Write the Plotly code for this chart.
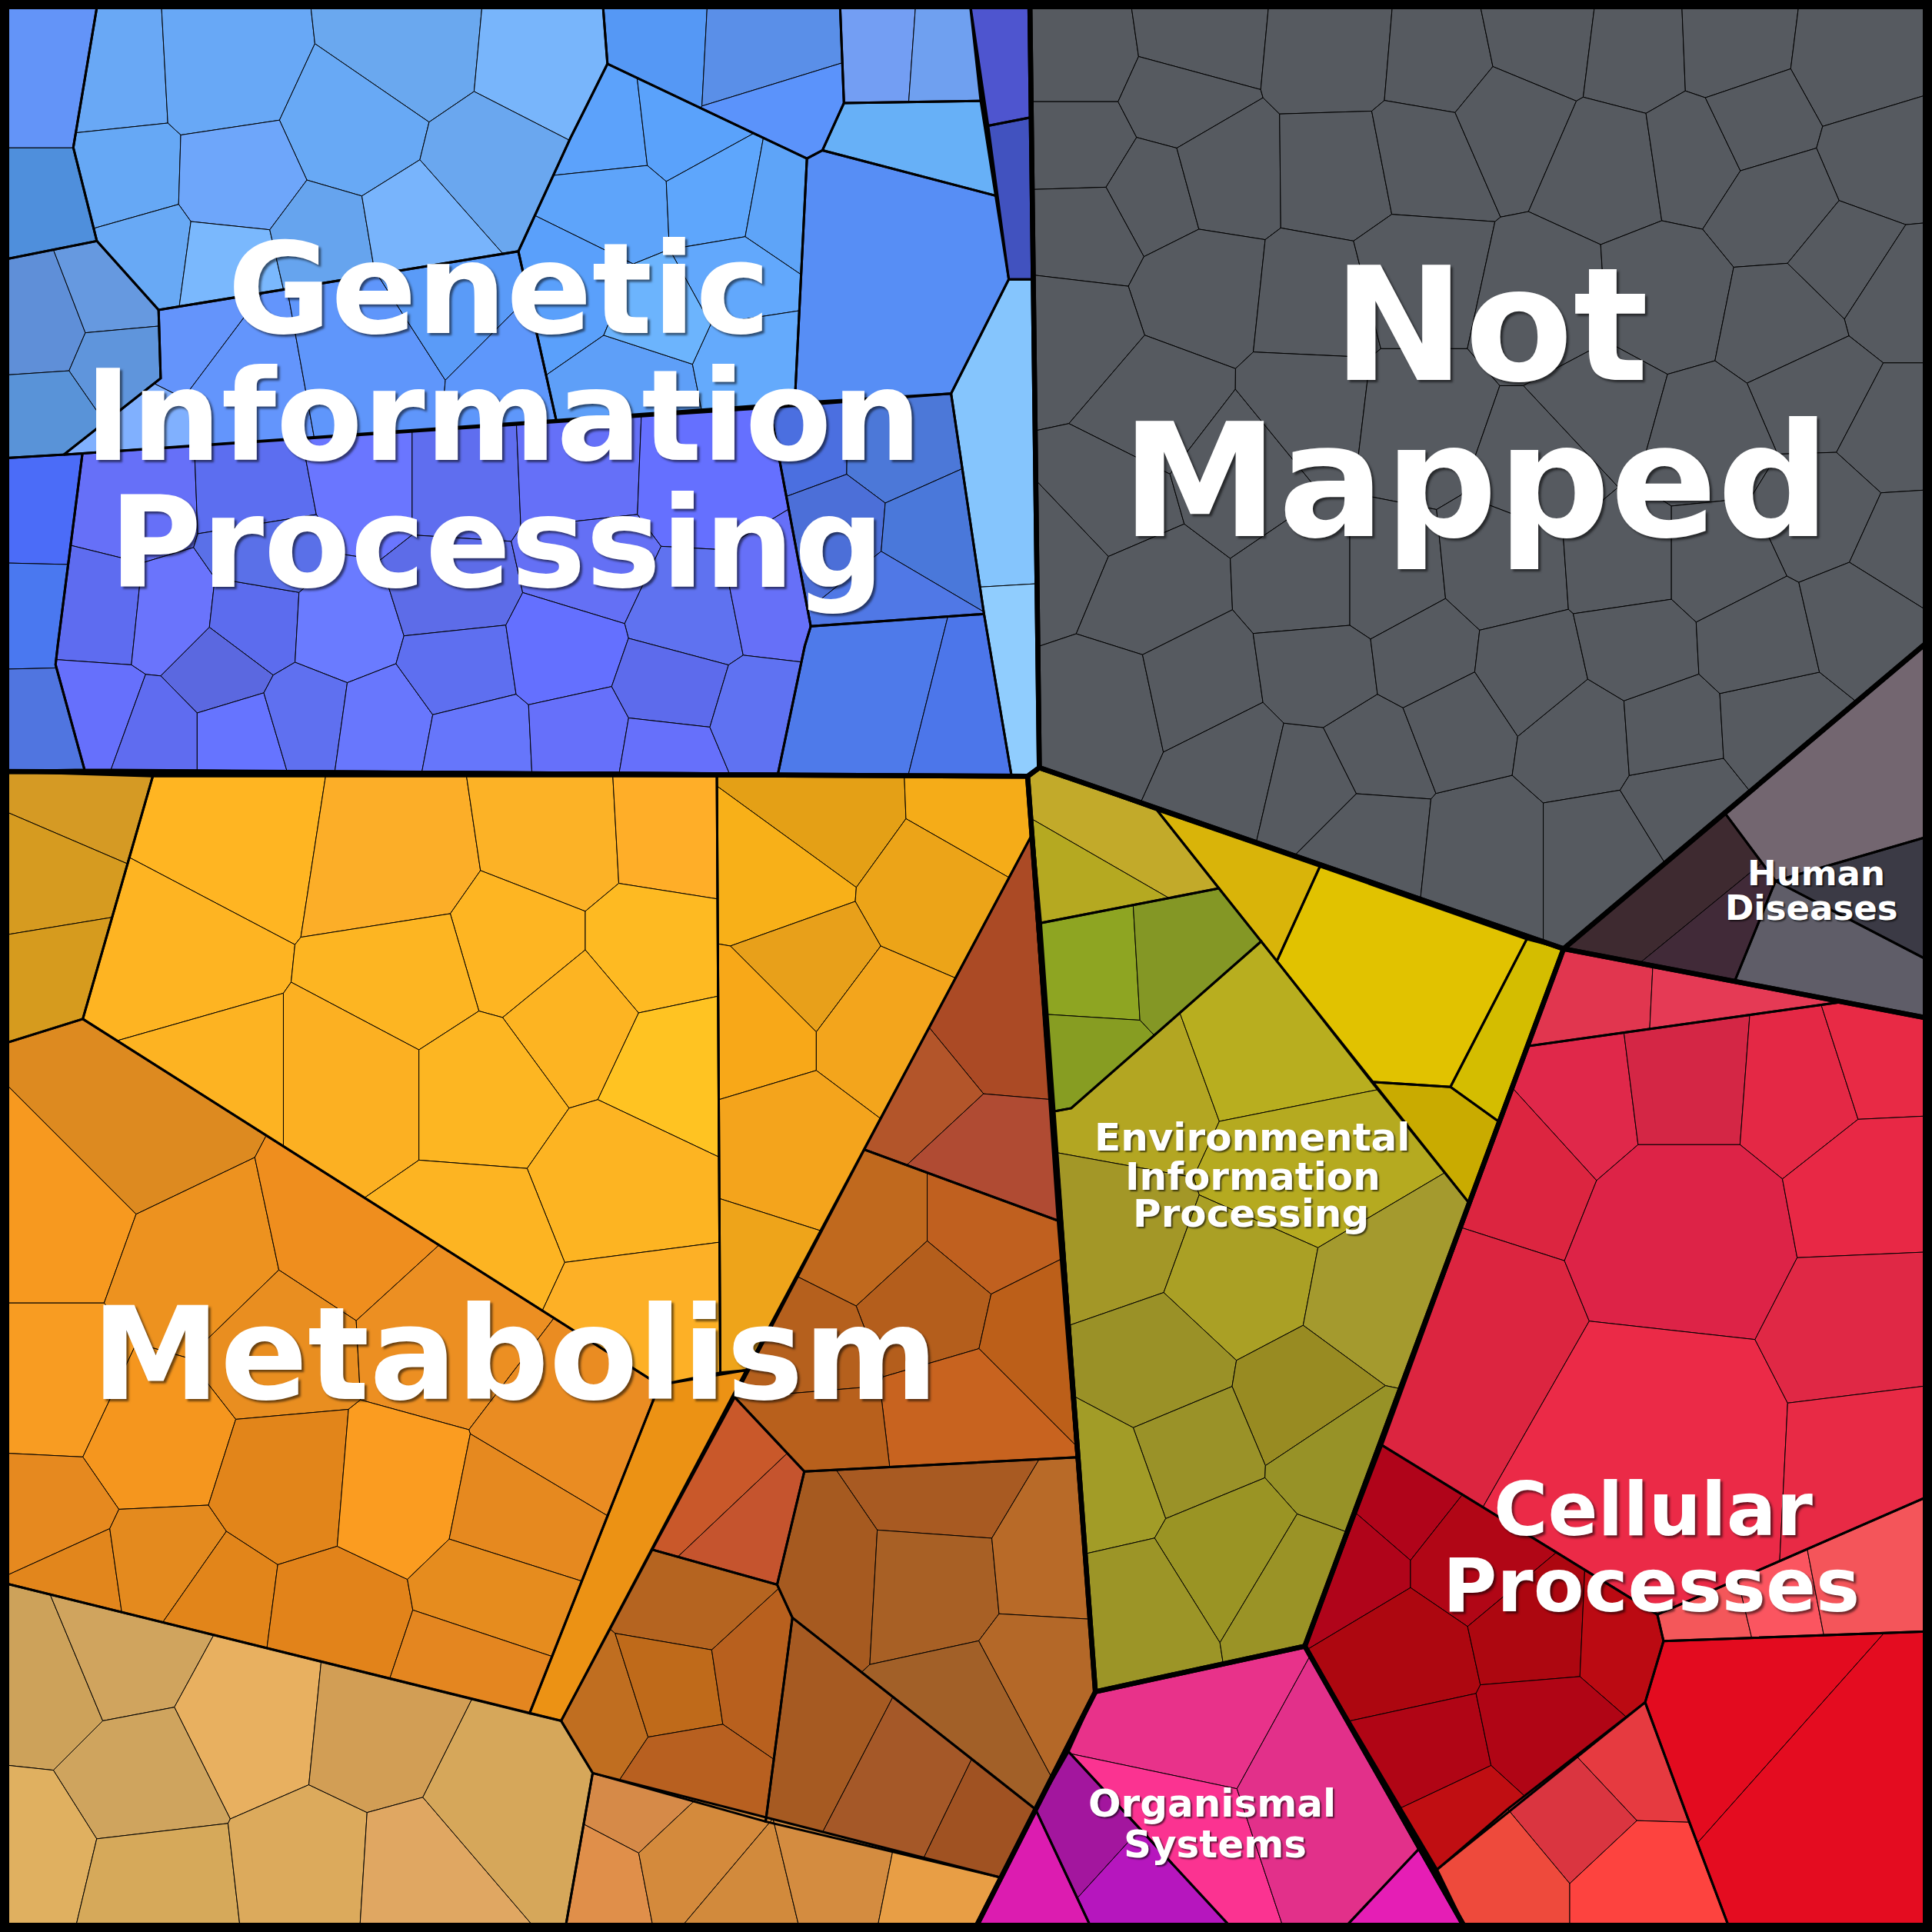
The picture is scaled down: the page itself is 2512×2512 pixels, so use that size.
import plotly.graph_objects as go

# ---------------- DATA ----------------
CATEGORIES = ["Genetic Information Processing", "Not Mapped", "Human Diseases",
              "Cellular Processes", "Organismal Systems",
              "Environmental Information Processing", "Metabolism"]

LABEL_LINES = {
    "Genetic Information Processing": ["Genetic", "Information", "Processing"],
    "Not Mapped": ["Not", "Mapped"],
    "Human Diseases": ["Human", "Diseases"],
    "Cellular Processes": ["Cellular", "Processes"],
    "Organismal Systems": ["Organismal", "Systems"],
    "Environmental Information Processing": ["Environmental", "Information", "Processing"],
    "Metabolism": ["Metabolism"],
}

# ---------------- LAYOUT (Voronoi treemap geometry, 0..1568 canvas units) ----------------
REGION_POLY = {
    "Genetic Information Processing": [(0, 0), (835.8, 0), (843.5, 623), (834, 630), (0, 626)],
    "Not Mapped": [(835.8, 0), (1568, 0), (1568, 518), (1269, 770), (843.5, 623)],
    "Human Diseases": [(1568, 518), (1568, 827), (1269, 770)],
    "Cellular Processes": [(1269, 770), (1568, 827), (1568, 1568), (1191, 1568), (1059, 1336)],
    "Organismal Systems": [(889, 1373), (1059, 1336), (1191, 1568), (790, 1568)],
    "Environmental Information Processing": [(843.5, 623), (1269, 770), (1059, 1336), (889, 1373), (834, 630)],
    "Metabolism": [(0, 626), (834, 630), (889, 1373), (790, 1568), (0, 1568)],
}

# each group: (polygon, cell seeds or None, cell colours)
GIP_GROUPS = [
    ([(0, 0), (79.6, 0), (59.5, 119.7), (78.6, 195.6), (0, 211.3)],
     [(35, 62), (35, 178)], ["#6394f8", "#4f8fdc"]),
    ([(0, 211.3), (78.6, 195.6), (128.7, 251.5), (130.4, 307), (51.8, 369), (0, 372)],
     [(30, 265), (95, 240), (100, 295), (35, 340)], ["#5f8fd8", "#6699e0", "#5f95dc", "#5993d8"]),
    ([(79.6, 0), (489, 0), (493, 51.8), (463, 112), (420.7, 204), (128.7, 251.5), (78.6, 195.6), (59.5, 119.7)],
     [(88, 62), (180, 57), (334, 40), (441, 50), (288, 107), (398, 134), (97, 147), (194, 150),
      (114, 207), (187, 217), (261, 200), (338, 187)],
     ["#69a8f5", "#68a8f6", "#6aa8ef", "#78b5fb", "#68a9f5", "#6aa7ef", "#66a8f5", "#6ea6fa",
      "#68a9f5", "#7ab8fd", "#66a4ee", "#78b4fc"]),
    ([(128.7, 251.5), (420.7, 204), (451.4, 341), (51.8, 369), (130.4, 307)],
     [(150, 280), (190, 310), (300, 290), (370, 245), (425, 300), (115, 350)],
     ["#6494fb", "#6395fc", "#5f96fb", "#5a9bf8", "#5e97fb", "#80b0fe"]),
    ([(489, 0), (681.6, 0), (684.9, 83.6), (667.5, 122), (654.9, 128.7), (493, 51.8)],
     [(525, 30), (620, 35), (640, 100)], ["#5598f5", "#5a8fe8", "#5b93fb"]),
    ([(420.7, 204), (463, 112), (493, 51.8), (654.9, 128.7), (645, 327), (451.4, 341)],
     [(492, 109), (552, 102), (498, 166), (585, 162), (634, 171), (466, 231), (596, 227),
      (520, 309), (606, 292), (536, 260)],
     ["#5ca2fb", "#5aa2fb", "#5ea4fa", "#5ea6fc", "#5ea4f8", "#5aa0fb", "#62a8fc",
      "#5e9ff8", "#64aafc", "#6cb4fd"]),
    ([(654.9, 128.7), (667.5, 122), (808, 158.8), (818.7, 226.7), (771.9, 319.4), (645, 327)],
     None, ["#578ef5"]),
    ([(681.6, 0), (786.9, 0), (795.9, 81.9), (685, 83.6)],
     [(705, 45), (775, 50)], ["#739ef3", "#6fa0f0"]),
    ([(685, 83.6), (795.9, 81.9), (808, 158.8), (667.5, 122)], None, ["#67b0f7"]),
    ([(786.9, 0), (835.8, 0), (836.5, 95.3), (802, 102)], None, ["#4e55cf"]),
    ([(802, 102), (836.5, 95.3), (838, 226.7), (818.7, 226.7)], None, ["#4152bf"]),
    ([(818.7, 226.7), (838, 226.7), (843.5, 623), (834, 630), (821, 630), (798.6, 498), (771.9, 319.4)],
     [(815, 390), (825, 560)], ["#85c5fd", "#90cdfe"]),
    ([(0, 372), (66.9, 368), (46.8, 524.4), (45.1, 539.4), (68.6, 624.7), (0, 626)],
     [(30, 415), (28, 500), (30, 585)], ["#4b6cf8", "#4a78f0", "#5075e0"]),
    ([(66.9, 368), (624.7, 331), (658, 508.3), (653.1, 524.4), (631.4, 628), (68.6, 624.7),
      (45.1, 539.4), (46.8, 524.4)],
     [(108, 410), (211, 406), (295, 390), (374, 390), (468, 386), (569, 390),
      (87, 495), (135, 500), (206, 508), (276, 512), (368, 483), (476, 459), (563, 500), (628, 487), (217, 443),
      (81, 581), (179, 544), (125, 597), (195, 597), (249, 581), (306, 589), (374, 540), (390, 605),
      (455, 528), (471, 601), (547, 560), (541, 613), (617, 581)],
     ["#6670f8", "#5c6ef0", "#6a76ff", "#5f6eef", "#6570f8", "#6570ff",
      "#5e6cf0", "#6a74fc", "#5c6cee", "#6a7bff", "#5d6ce8", "#6470f5", "#5f72f0", "#6670f8", "#5a70e8",
      "#6670fc", "#5b68e0", "#5f6cf0", "#6674ff", "#5f70f0", "#6877fd", "#5e6ff0", "#6676fb",
      "#6470ff", "#6670fa", "#5d6bec", "#6670fb", "#5f72f2"]),
    ([(624.7, 331), (771.9, 319.4), (798.6, 498.3), (658, 508.3)],
     [(650, 360), (725, 361), (675, 428), (758, 435), (725, 491)],
     ["#4b6fe0", "#4c78d8", "#4c6fd8", "#4a78da", "#5078e6"]),
    ([(658, 508.3), (798.6, 498.3), (821, 630), (631.4, 628), (653.1, 524.4)],
     [(700, 565), (800, 590)], ["#4e7aea", "#4c76ea"]),
]

NM_SEEDS = [
    (878, 45), (968, 32), (878, 120), (955, 80), (935, 155), (990, 140), (880, 185), (975, 235),
    (870, 270), (940, 330), (900, 410), (858, 450), (930, 480), (1005, 380),
    (1085, 43), (1168, 50), (1250, 33), (1330, 43), (1403, 40), (1506, 53),
    (1088, 139), (1155, 126), (1224, 96), (1307, 132), (1375, 122), (1423, 99), (1529, 129),
    (1443, 166), (1499, 212), (1539, 238),
    (1069, 245), (1148, 225), (1254, 248), (1350, 242), (1450, 262), (1476, 318), (1539, 351),
    (1065, 331), (1148, 341), (1300, 335), (1383, 358), (1479, 417), (1545, 447), (1254, 378),
    (1069, 474), (1122, 474), (1221, 464), (1320, 457), (1393, 457),
    (900, 575), (970, 560), (1000, 620), (1065, 635), (1115, 610), (1110, 680), (1205, 690),
    (1180, 585), (1285, 600), (1300, 690), (1365, 650), (1355, 595), (1440, 590), (1075, 545),
    (1155, 535), (1240, 545), (1330, 525), (1425, 520), (1512, 500),
]
NM_COLOR = "#565a60"

HD_GROUPS = [
    ([(1568, 518), (1568, 678), (1441, 715), (1400, 660)], None, ["#736670"]),
    ([(1568, 678), (1568, 781), (1441, 715)], None, ["#3b3a45"]),
    ([(1441, 715), (1568, 781), (1568, 827), (1408, 796)], None, ["#5f5d68"]),
    ([(1400, 660), (1441, 715), (1408, 796), (1269, 770)],
     [(1350, 720), (1395, 775)], ["#3e2a30", "#412a38"]),
]

CP_GROUPS = [
    ([(1269, 770), (1496, 813), (1240, 849)], [(1290, 810), (1390, 815)], ["#e1364f", "#e53a55"]),
    ([(1240, 849), (1496, 813), (1568, 827), (1568, 1213), (1345.1, 1310.3), (1121.6, 1172.9)],
     [(1275, 880), (1370, 868), (1463, 875), (1525, 855), (1220, 930), (1175, 1070), (1370, 990),
      (1530, 960), (1350, 1170), (1535, 1075), (1548, 1180)],
     ["#e0284a", "#d42645", "#e42845", "#e82a45", "#dc2540", "#dc2540", "#dd2347",
      "#e82845", "#eb2a47", "#e02845", "#e82a45"]),
    ([(1121.6, 1172.9), (1345.1, 1310.3), (1350.1, 1331.9), (1335.2, 1381.6), (1166.3, 1517.3), (1059, 1336)],
     [(1134.8, 1214.3), (1091.8, 1264), (1197.7, 1264), (1141.4, 1346.8), (1247.4, 1323.6),
      (1320.3, 1326.9), (1158, 1423), (1254, 1403), (1184.5, 1479.3)],
     ["#b0041a", "#b0041a", "#b10616", "#ad0710", "#ad0710", "#bb0a12", "#b00515", "#b00515", "#c00e12"]),
    ([(1345.1, 1310.3), (1568, 1213), (1568, 1324), (1350.1, 1331.9)],
     [(1385, 1315), (1448, 1300), (1500, 1290)], ["#f4575a", "#fb5560", "#f4555a"]),
    ([(1350.1, 1331.9), (1568, 1324), (1568, 1568), (1404.7, 1568), (1370, 1476), (1335.2, 1381.6)],
     [(1400, 1380), (1490, 1460)], ["#e30b1f", "#e40c20"]),
    ([(1335.2, 1381.6), (1370, 1476), (1404.7, 1568), (1191, 1568), (1166.3, 1517.3), (1224.2, 1467.7)],
     [(1330, 1429.6), (1280.5, 1476), (1221, 1525.6), (1327, 1525.6)],
     ["#e63a40", "#da3540", "#ee4a3c", "#fd433f"]),
]

OS_GROUPS = [
    ([(889, 1373), (1059, 1336), (1151.4, 1500.8), (1088, 1568), (1002.6, 1568), (867.2, 1421.6)],
     [(970, 1395), (950, 1490), (1070, 1450)], ["#e8328a", "#fb3391", "#e2308a"]),
    ([(1151.4, 1500.8), (1191, 1568), (1088, 1568)], None, ["#e51eb5"]),
    ([(867.2, 1421.6), (1002.6, 1568), (887.2, 1568), (840.4, 1468.4)],
     [(870, 1490), (925, 1540)], ["#a3169e", "#b616be"]),
    ([(840.4, 1468.4), (887.2, 1568), (790, 1568)], None, ["#dc1cb0"]),
]

EIP_GROUPS = [
    ([(834, 630), (843.5, 623), (939, 657.5), (989.2, 721), (844.8, 749.1)],
     [(905, 669), (875, 721)], ["#c2aa2a", "#b5a921"]),
    ([(844.8, 749.1), (989.2, 721), (1023.6, 764), (869.4, 899.4), (855.8, 901.9)],
     [(880, 785), (965, 780), (875, 865)], ["#8ea522", "#849725", "#879d22"]),
    ([(939, 657.5), (1071.2, 703.2), (1036.3, 780)], None, ["#d9b409"]),
    ([(1071.2, 703.2), (1239.1, 762.2), (1177.2, 882.1), (1113.3, 878.1), (1036.3, 780)], None, ["#e1c200"]),
    ([(1239.1, 762.2), (1269, 770), (1216, 910), (1177.2, 882.1)], None, ["#d4bd00"]),
    ([(1113.3, 878.1), (1177.2, 882.1), (1216, 910), (1192, 976)], None, ["#c9ab00"]),
    ([(855.8, 901.9), (869.4, 899.4), (1023.6, 764), (1192, 976), (1059, 1336), (889, 1373)],
     [(920, 890), (1030, 850), (1050, 950), (900, 1000), (1010, 1040), (1115, 1060), (940, 1115),
      (1060, 1135), (965, 1175), (895, 1200), (1090, 1180), (1000, 1260), (920, 1310), (1050, 1290)],
     ["#b3a622", "#b8ae1f", "#b5aa20", "#a39727", "#aaa025", "#a49a2e", "#9a9127",
      "#988b22", "#9a9228", "#a29c27", "#979227", "#9a9424", "#9c9527", "#9a9326"]),
]

MET_GROUPS = [
    ([(0, 626), (124, 630), (67.2, 827), (0, 848)],
     [(69, 649), (42, 712), (55, 791)], ["#d59a24", "#d69b20", "#d69b1e"]),
    ([(124, 630), (581.8, 630), (584.6, 1114), (535.1, 1124), (67.2, 827)],
     [(190, 680), (140, 775), (320, 700), (455, 680), (545, 675), (420, 770), (335, 795), (530, 770),
      (465, 825), (550, 865), (170, 880), (290, 880), (390, 880), (505, 960), (380, 1010), (520, 1075)],
     ["#ffb522", "#feb422", "#fcae28", "#fcb226", "#ffae28", "#feb522", "#fdb522", "#feba22",
      "#fdb422", "#ffc322", "#fdb322", "#fcb022", "#fdb622", "#fdb422", "#fdb422", "#fdb026"]),
    ([(581.8, 630), (834, 630), (836.9, 678.6), (605.6, 1112), (584.6, 1114)],
     [(670, 660), (800, 655), (630, 715), (760, 725), (655, 785), (610, 830), (715, 830), (640, 930), (605, 1040)],
     ["#e4a016", "#f5ac18", "#f8b018", "#eca418", "#e8a01a", "#f8a818", "#f3a51c", "#f4a41c", "#eea41a"]),
    ([(535.1, 1124), (605.6, 1112), (455.4, 1396.6), (429.8, 1390.5)], None, ["#ec9214"]),
    ([(0, 848), (67.2, 827), (535.1, 1124), (429.8, 1390.5), (0, 1284)],
     [(110, 915), (40, 985), (165, 1030), (282, 1005), (225, 1092), (355, 1085), (460, 1165),
      (40, 1130), (125, 1170), (35, 1232), (60, 1287), (130, 1277), (235, 1205), (170, 1305),
      (270, 1318), (320, 1212), (420, 1232), (400, 1295), (380, 1355)],
     ["#dd8a20", "#f7991f", "#ed921f", "#ef8e1e", "#e98e20", "#ec8f22", "#ea8c22",
      "#f89c22", "#f5961e", "#e6891f", "#e2861c", "#e48a1e", "#e2851a", "#e2851a",
      "#e2831a", "#fb9c20", "#e6891f", "#e68c1e", "#e48620"]),
    ([(0, 1284), (455.4, 1396.6), (481, 1439), (458.3, 1568), (0, 1568)],
     [(35, 1365), (95, 1340), (205, 1400), (115, 1445), (20, 1505), (125, 1530), (255, 1515),
      (305, 1410), (335, 1520), (405, 1460)],
     ["#cda25a", "#d0a45e", "#e8b060", "#cfa45e", "#e0b060", "#d6a95a", "#dcaa5c",
      "#d29e55", "#e0a762", "#d6a75a"]),
    ([(836.9, 678.6), (858.5, 990.6), (701.4, 933)],
     [(806, 835), (745, 885), (797, 941)], ["#ab4a25", "#b3552a", "#b04b33"]),
    ([(701.4, 933), (858.5, 990.6), (873.9, 1182.7), (652.8, 1194.2), (596.3, 1134)],
     [(700, 1000), (805, 1000), (755, 1060), (845, 1080), (650, 1100), (780, 1145), (655, 1160)],
     ["#c0691e", "#c0601f", "#b45e1c", "#bc5f19", "#b5601d", "#c8631f", "#b8601c"]),
    ([(596.3, 1134), (652.8, 1194.2), (630.7, 1286.1), (529.4, 1257.7)],
     [(577, 1203), (612, 1240)], ["#c9582a", "#c5542e"]),
    ([(529.4, 1257.7), (630.7, 1286.1), (643.1, 1312.9), (621.4, 1478.4), (481, 1439), (455.4, 1396.6)],
     [(560, 1300), (485, 1390), (548, 1370), (615, 1360), (560, 1440)],
     ["#b56420", "#c06e20", "#bf6a1a", "#b8601e", "#b86020"]),
    ([(652.8, 1194.2), (873.9, 1182.7), (889, 1373), (840.4, 1468.4), (643.1, 1312.9), (630.7, 1286.1)],
     [(760, 1210), (665, 1275), (755, 1280), (860, 1270), (780, 1395), (855, 1355)],
     ["#a85a22", "#a65a20", "#a86025", "#b86a28", "#a26028", "#b46828"]),
    ([(643.1, 1312.9), (840.4, 1468.4), (812.4, 1523.8), (621.4, 1478.4)],
     [(660, 1410), (735, 1449), (805, 1483)], ["#a65a22", "#a55828", "#a05222"]),
    ([(481, 1439), (812.4, 1523.8), (790, 1568), (458.3, 1568)],
     [(515, 1462), (482, 1525), (560, 1510), (605, 1548), (680, 1530), (755, 1545)],
     ["#d68a48", "#e08f4a", "#d48a3c", "#d28a3c", "#d48c40", "#e89e45"]),
]

GROUPS = ([("Genetic Information Processing",) + g for g in GIP_GROUPS]
          + [("Not Mapped", REGION_POLY["Not Mapped"], NM_SEEDS, [NM_COLOR] * len(NM_SEEDS))]
          + [("Human Diseases",) + g for g in HD_GROUPS]
          + [("Cellular Processes",) + g for g in CP_GROUPS]
          + [("Organismal Systems",) + g for g in OS_GROUPS]
          + [("Environmental Information Processing",) + g for g in EIP_GROUPS]
          + [("Metabolism",) + g for g in MET_GROUPS])

# label placement (centre x, centre y of each line), font size in px
LABEL_POS = {
    "Genetic Information Processing": ([(405, 235), (408, 338), (403, 441)], 164),
    "Not Mapped": ([(1210, 264), (1198, 391)], 205),
    "Metabolism": ([(418, 1099)], 168),
    "Cellular Processes": ([(1342, 1225), (1340, 1287)], 96),
    "Environmental Information Processing": ([(1016, 923), (1017, 955), (1015, 985)], 50),
    "Human Diseases": ([(1474, 709), (1470, 737)], 45),
    "Organismal Systems": ([(984, 1464), (986, 1497)], 50),
}

# ---------------- GEOMETRY HELPERS ----------------
def clip_half(poly, a, b, c):
    out = []
    n = len(poly)
    for i in range(n):
        px, py = poly[i]
        qx, qy = poly[(i + 1) % n]
        fp = a * px + b * py - c
        fq = a * qx + b * qy - c
        if fp <= 0:
            out.append((px, py))
        if (fp < 0 < fq) or (fq < 0 < fp):
            t = fp / (fp - fq)
            out.append((px + t * (qx - px), py + t * (qy - py)))
    return out


def voronoi_cells(poly, seeds):
    cells = []
    for i, (sx, sy) in enumerate(seeds):
        cell = list(poly)
        for j, (tx, ty) in enumerate(seeds):
            if i == j:
                continue
            a = 2 * (tx - sx)
            b = 2 * (ty - sy)
            c = tx * tx + ty * ty - sx * sx - sy * sy
            cell = clip_half(cell, a, b, c)
            if len(cell) < 3:
                break
        cells.append(cell)
    return cells


def closed_xy(poly):
    xs = [p[0] for p in poly] + [poly[0][0]]
    ys = [p[1] for p in poly] + [poly[0][1]]
    return xs, ys

# ---------------- FIGURE ----------------
fig = go.Figure()

for cat, poly, seeds, colors in GROUPS:
    cells = [poly] if seeds is None else voronoi_cells(poly, seeds)
    for cell, col in zip(cells, colors):
        if len(cell) < 3:
            continue
        xs, ys = closed_xy(cell)
        fig.add_trace(go.Scatter(x=xs, y=ys, mode="lines", fill="toself", fillcolor=col,
                                 line=dict(color="black", width=1), hoverinfo="skip",
                                 showlegend=False))

# level-2 outlines
gx, gy = [], []
for cat, poly, seeds, colors in GROUPS:
    xs, ys = closed_xy(poly)
    gx += xs + [None]
    gy += ys + [None]
fig.add_trace(go.Scatter(x=gx, y=gy, mode="lines", line=dict(color="black", width=3),
                         hoverinfo="skip", showlegend=False))

# level-1 outlines
rx, ry = [], []
for cat in CATEGORIES:
    xs, ys = closed_xy(REGION_POLY[cat])
    rx += xs + [None]
    ry += ys + [None]
fig.add_trace(go.Scatter(x=rx, y=ry, mode="lines", line=dict(color="black", width=6.5),
                         hoverinfo="skip", showlegend=False))

for cat in CATEGORIES:
    lines = LABEL_LINES[cat]
    pos, size = LABEL_POS[cat]
    sh = "3px 3px 3px rgba(0,0,0,0.55)" if size > 80 else "2px 2px 2px rgba(0,0,0,0.6)"
    for txt, (x, y) in zip(lines, pos):
        fig.add_annotation(x=x, y=y, text=txt, showarrow=False, xanchor="center", yanchor="middle",
                           font=dict(family="DejaVu Sans", size=size, color="white",
                                     weight="bold", shadow=sh))

fig.add_shape(type="rect", xref="paper", yref="paper", x0=0, y0=0, x1=1, y1=1,
              line=dict(color="black", width=24), fillcolor="rgba(0,0,0,0)")

fig.update_layout(
    width=2512, height=2512, margin=dict(l=0, r=0, t=0, b=0),
    paper_bgcolor="black", plot_bgcolor="black",
    xaxis=dict(range=[0, 1568], visible=False, fixedrange=True),
    yaxis=dict(range=[1568, 0], visible=False, fixedrange=True),
    showlegend=False,
)

fig.write_html("out.html", config={"displayModeBar": False},
               post_script="document.body.style.margin='0';document.body.style.overflow='hidden';")
